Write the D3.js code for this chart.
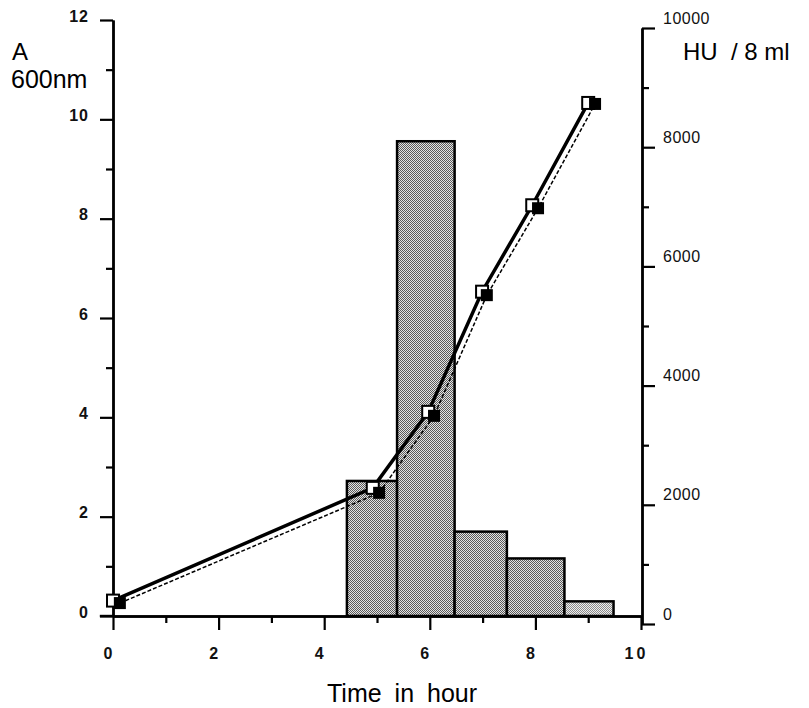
<!DOCTYPE html>
<html>
<head>
<meta charset="utf-8">
<script src="https://cdn.jsdelivr.net/npm/d3@7"></script>
<style>
  body { margin: 0; background: #fff; }
  svg { display: block; font-family: "Liberation Sans", Arial, sans-serif; }
</style>
</head>
<body>
<div id="chart"></div>
<script>
// tick values
const timeTicks = [0, 2, 4, 6, 8, 10];
const timeMinor = [1, 3, 5, 7, 9];
const absTicks = [0, 2, 4, 6, 8, 10, 12];
const absMinor = [1, 3, 5, 7, 9, 11];
const huTicks = [0, 2000, 4000, 6000, 8000, 10000];
const huMinor = [1000, 3000, 5000, 7000, 9000];

// histogram (HU / 8 ml), bins in hours
const barStart = [4.43, 5.38, 6.47, 7.46, 8.55];
const barEnd = [5.38, 6.47, 7.46, 8.55, 9.48];
const barHU = [2400, 8100, 1550, 1100, 380];

// A600, open squares (solid line)
const openTime = [0, 4.92, 5.97, 6.99, 7.94, 9.0];
const openA600 = [0.31, 2.58, 4.11, 6.53, 8.27, 10.33];

// A600, filled squares (dashed line)
const fillTime = [0.13, 5.04, 6.08, 7.08, 8.05, 9.13];
const fillA600 = [0.26, 2.48, 4.03, 6.46, 8.21, 10.31];

const width = 809, height = 708;

const svg = d3.select('#chart').append('svg')
    .attr('width', width)
    .attr('height', height);

// scales
const x = d3.scaleLinear().domain([0, 10]).range([113, 641]);
const yL = d3.scaleLinear().domain([0, 12]).range([616, 20]);
const yR = d3.scaleLinear().domain([0, 10000]).range([624, 28]);

// dither-like fills for the bars
const defs = svg.append('defs');
function dither(id, light, dark) {
    const p = defs.append('pattern')
        .attr('id', id)
        .attr('patternUnits', 'userSpaceOnUse')
        .attr('width', 2).attr('height', 2);
    p.append('rect').attr('width', 2).attr('height', 2).attr('fill', light);
    p.append('rect').attr('width', 1).attr('height', 1).attr('fill', dark);
    p.append('rect').attr('x', 1).attr('y', 1).attr('width', 1).attr('height', 1).attr('fill', dark);
}
dither('dots', '#e4e4e4', '#5a5a5a');
dither('dotsLight', '#efefef', '#8a8a8a');

// bars
const bars = barHU.map((v, i) => ({ x0: barStart[i], x1: barEnd[i], v: v }));
svg.append('g').selectAll('rect')
    .data(bars)
    .join('rect')
    .attr('x', d => x(d.x0))
    .attr('y', d => yR(d.v))
    .attr('width', d => x(d.x1) - x(d.x0))
    .attr('height', d => yL(0) - yR(d.v))
    .attr('fill', (d, i) => i === bars.length - 1 ? 'url(#dotsLight)' : 'url(#dots)')
    .attr('stroke', '#000')
    .attr('stroke-width', 2.5);

// axes: minor ticks first, then major with labels
function styleAxis(g) {
    g.attr('font-size', null).attr('font-family', null);
    g.selectAll('path.domain').attr('stroke', '#000').attr('stroke-width', 2.4);
    g.selectAll('.tick line').attr('stroke', '#000').attr('stroke-width', 2.2);
    g.selectAll('.tick text')
        .style('font-size', '16px')
        .style('font-weight', 'bold')
        .style('letter-spacing', '1px')
        .attr('fill', '#111');
}

svg.append('g')
    .attr('transform', `translate(${x(0)},0)`)
    .call(d3.axisLeft(yL).tickValues(absMinor).tickSize(7).tickFormat('').tickSizeOuter(0))
    .call(styleAxis);
const leftAxis = svg.append('g')
    .attr('transform', `translate(${x(0)},0)`)
    .call(d3.axisLeft(yL).tickValues(absTicks).tickSize(13).tickPadding(11).tickSizeOuter(0))
    .call(styleAxis);
leftAxis.selectAll('.tick text').attr('y', -4);

svg.append('g')
    .attr('transform', `translate(${x(10) + 1},0)`)
    .call(d3.axisRight(yR).tickValues(huMinor).tickSize(7).tickFormat('').tickSizeOuter(0))
    .call(styleAxis);
const rightAxis = svg.append('g')
    .attr('transform', `translate(${x(10) + 1},0)`)
    .call(d3.axisRight(yR).tickValues(huTicks).tickSize(13).tickPadding(8)
        .tickFormat(d3.format('d')).tickSizeOuter(0))
    .call(styleAxis);
rightAxis.selectAll('.tick text')
    .attr('y', -10)
    .style('font-size', '16px')
    .style('font-weight', 'normal')
    .style('letter-spacing', '0.5px');

svg.append('g')
    .attr('transform', `translate(0,${yL(0)})`)
    .call(d3.axisBottom(x).tickValues(timeMinor).tickSize(7).tickFormat('').tickSizeOuter(0))
    .call(styleAxis);
const bottomAxis = svg.append('g')
    .attr('transform', `translate(0,${yL(0)})`)
    .call(d3.axisBottom(x).tickValues(timeTicks).tickSize(14).tickPadding(18).tickSizeOuter(0))
    .call(styleAxis);
bottomAxis.selectAll('.tick text').attr('dx', -5);
bottomAxis.selectAll('.tick text').filter(d => d === 10).style('letter-spacing', '3px');
// short overhang of the time axis to the left of the origin
bottomAxis.append('line')
    .attr('x1', x(-0.25)).attr('x2', x(0))
    .attr('stroke', '#000').attr('stroke-width', 2.4);

// lines
const openPts = openTime.map((t, i) => [x(t), yL(openA600[i])]);
const fillPts = fillTime.map((t, i) => [x(t), yL(fillA600[i])]);
const line = d3.line();

svg.append('path')
    .attr('d', line(fillPts))
    .attr('fill', 'none')
    .attr('stroke', '#000')
    .attr('stroke-width', 1.5)
    .attr('stroke-dasharray', '4,2');

svg.append('path')
    .attr('d', line(openPts))
    .attr('fill', 'none')
    .attr('stroke', '#000')
    .attr('stroke-width', 3.5);

// markers
const sq = 12;
svg.append('g').selectAll('rect')
    .data(openPts)
    .join('rect')
    .attr('x', d => d[0] - sq / 2)
    .attr('y', d => d[1] - sq / 2)
    .attr('width', sq).attr('height', sq)
    .attr('fill', '#fff')
    .attr('stroke', '#000')
    .attr('stroke-width', 2);

svg.append('g').selectAll('rect')
    .data(fillPts)
    .join('rect')
    .attr('x', d => d[0] - sq / 2)
    .attr('y', d => d[1] - sq / 2)
    .attr('width', sq).attr('height', sq)
    .attr('fill', '#000');

// axis titles
svg.append('text')
    .attr('x', 12).attr('y', 60)
    .style('font-size', '24px')
    .text('A');
svg.append('text')
    .attr('x', 11).attr('y', 88)
    .style('font-size', '25px')
    .text('600nm');
svg.append('text')
    .attr('x', 683).attr('y', 60)
    .style('font-size', '24px')
    .attr('xml:space', 'preserve')
    .text('HU  / 8 ml');
svg.append('text')
    .attr('x', 327).attr('y', 702)
    .style('font-size', '25px')
    .style('word-spacing', '6px')
    .text('Time in hour');
</script>
</body>
</html>
